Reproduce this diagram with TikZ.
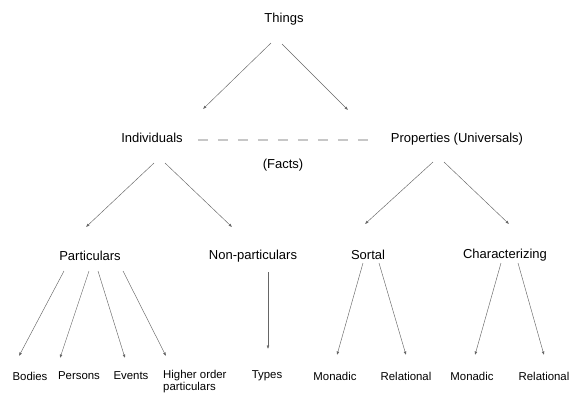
\documentclass[tikz,border=0pt]{standalone}
\usepackage{fontspec}
\setmainfont{Liberation Sans}
\usetikzlibrary{calc,arrows.meta}
\tikzset{
  lbl/.style={inner sep=0pt, font=\fontsize{13}{15}\selectfont},
  leaf/.style={inner sep=0pt, font=\fontsize{11.4}{13}\selectfont},
  arr/.style={draw=black!60, line width=0.45pt, -{Latex[length=3.5pt,width=2.8pt]}},
  facts/.style={draw=black!22, line width=1.2pt, dash pattern=on 10pt off 10pt}
}
\begin{document}
\begin{tikzpicture}[x=1pt,y=-1pt]
\useasboundingbox (0,0) rectangle (571,392);
% level 0
\node[lbl] (things) at (284,19) {Things};
% level 1
\node[lbl] (ind) at (152,138) {Individuals};
\node[lbl] (props) at (457,139) {Properties (Universals)};
\node[lbl] (facts) at (283,165) {(Facts)};
% level 2
\node[lbl] (part) at (90,256) {Particulars};
\node[lbl] (nonpart) at (253,256) {Non-particulars};
\node[lbl] (sortal) at (368,255) {Sortal};
\node[lbl] (char) at (505,255) {Characterizing};
% level 3
\node[leaf] (bodies) at (30,376) {Bodies};
\node[leaf] (persons) at (79,376) {Persons};
\node[leaf] (events) at (131,376) {Events};
\node[leaf, align=left, anchor=north west] (higher) at (163,370) {Higher order\\[-1pt]particulars};
\node[leaf] (types) at (267,376) {Types};
\node[leaf] (mon1) at (335,376) {Monadic};
\node[leaf] (rel1) at (406,376) {Relational};
\node[leaf] (mon2) at (472,376) {Monadic};
\node[leaf] (rel2) at (544,376) {Relational};
% connectors
\draw[arr] ($(things.center)+(-13,24)$) -- ($(ind.center)+(51,-29)$);
\draw[arr] ($(things.center)+(-2,25)$) -- ($(props.center)+(-109,-29)$);
\draw[facts] ($(ind.east)+(15,2)$) -- ($(props.west)+(-15,1)$);
\draw[arr] ($(ind.center)+(2,25)$) -- ($(part.center)+(-4,-29)$);
\draw[arr] ($(ind.center)+(13,25)$) -- ($(nonpart.center)+(-21,-29)$);
\draw[arr] ($(props.center)+(-24,23)$) -- ($(sortal.center)+(-3,-31)$);
\draw[arr] ($(props.center)+(-13,23)$) -- ($(char.center)+(4,-31)$);
\draw[arr] ($(part.center)+(-26,15)$) -- ($(bodies.center)+(-11,-20)$);
\draw[arr] ($(part.center)+(-1,15)$) -- ($(persons.center)+(-19,-18)$);
\draw[arr] ($(part.center)+(8,15)$) -- ($(events.center)+(-6,-18)$);
\draw[arr] ($(part.center)+(33,15)$) -- ($(higher.north west)+(3,-14)$);
\draw[arr] ($(nonpart.center)+(15,16)$) -- ($(types.center)+(1,-27)$);
\draw[arr] ($(sortal.center)+(-5,8)$) -- ($(mon1.center)+(2,-21)$);
\draw[arr] ($(sortal.center)+(11,8)$) -- ($(rel1.center)+(0,-21)$);
\draw[arr] ($(char.center)+(-4,8)$) -- ($(mon2.center)+(3,-21)$);
\draw[arr] ($(char.center)+(13,8)$) -- ($(rel2.center)+(0,-21)$);
\end{tikzpicture}
\end{document}
